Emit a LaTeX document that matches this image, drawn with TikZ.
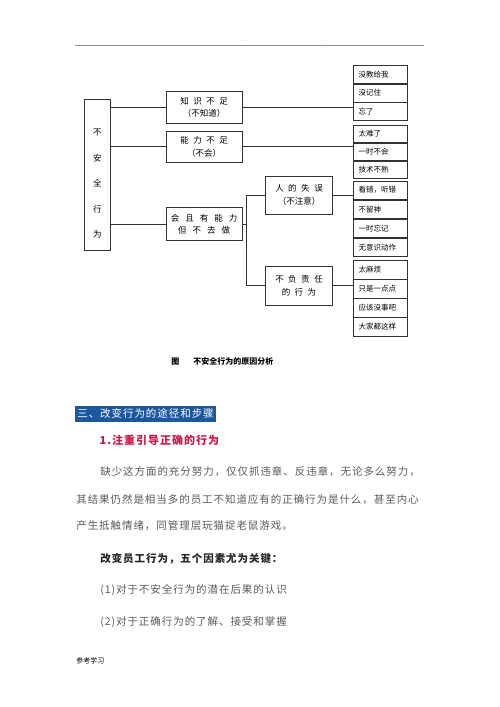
\documentclass[tikz,border=0pt]{standalone}
\usepackage{fontspec}
\setmainfont{Noto Sans CJK SC}
\newfontfamily\spaced{Noto Sans CJK SC}[LetterSpace=9]
\usetikzlibrary{positioning}
\definecolor{headblue}{RGB}{28,88,160}
\definecolor{titlered}{RGB}{205,22,72}
\definecolor{bodygray}{RGB}{90,90,90}
\definecolor{rulegray}{RGB}{150,150,150}
\newcommand{\gap}{\hspace{4.5pt}}
\newcommand{\wgap}{\hspace{6pt}}
\begin{document}
\begin{tikzpicture}
    [x=1pt,y=-1pt,
    line width=0.65pt,
    box/.style = {draw=black!80, minimum width=76pt, minimum height=32pt,
                inner sep=0pt, align=center,
                font=\fontsize{8.5}{12.5}\selectfont},
    cell/.style = {draw=black!80, minimum height=18pt, text width=44pt,
                inner xsep=5pt, inner ysep=0pt, anchor=north west, align=left,
                font=\fontsize{7.5}{8}\selectfont},
    body/.style = {anchor=west, inner sep=0pt, text=bodygray,
                font=\fontsize{10.5}{12}\spaced}]
    \useasboundingbox[fill=white] (0,0) rectangle (500,707);
    % Page header
    \draw[rulegray, line width=1.5pt] (75,45.7) -- (424,45.7);
    \node[font=\fontsize{5}{5}\selectfont, text=black!70] (hdot1) at (245,41) {.\ \ .};
    \node[font=\fontsize{5}{5}\selectfont, text=black!70] (hdot2) at (323,41) {.};
    % Root
    \node[box, minimum width=26pt, minimum height=150.7pt,
        label={[align=center, yshift=-9pt, font=\fontsize{8.5}{25.5}\selectfont]center:不\\安\\全\\行\\为}]
        (buan) at (97.3,174.7) {};
    % Second level
    \node[box] (zhishi) at (204.2,107.5) {知\gap 识\gap 不\gap 足\\（不知道）};
    \node[box, minimum height=31.3pt] (nengli) at (204.2,146.7) {能\gap 力\gap 不\gap 足\\（不会）};
    \node[box, minimum height=33pt] (buqu) at (204.2,224.2) {会\wgap 且\wgap 有\wgap 能\wgap 力\\但\wgap 不\wgap 去\wgap 做};
    % Third level
    \node[box, minimum width=66.6pt, minimum height=38pt] (shiwu) at (299,195) {人\gap 的\gap 失\gap 误\\（不注意）};
    \node[box, minimum width=66.6pt, minimum height=38.3pt] (zeren) at (299,285.8) {不\gap 负\gap 责\gap 任\\的\gap 行\gap 为};
    % Reasons, knowledge
    \node[cell] (a1) at (353.3,65) {没教给我};
    \node[cell, below=0pt of a1] (a2) {没记住};
    \node[cell, below=0pt of a2] (a3) {忘了};
    % Reasons, ability
    \node[cell, minimum height=17.2pt] (b1) at (353.3,125) {太难了};
    \node[cell, minimum height=17.2pt, below=0pt of b1] (b2) {一时不会};
    \node[cell, minimum height=17.2pt, below=0pt of b2] (b3) {技术不熟};
    % Reasons, mistakes
    \node[cell, minimum height=18.4pt] (c1) at (353.3,180.7) {看错，听错};
    \node[cell, minimum height=18.4pt, below=0pt of c1] (c2) {不留神};
    \node[cell, minimum height=18.4pt, below=0pt of c2] (c3) {一时忘记};
    \node[cell, minimum height=18.4pt, below=0pt of c3] (c4) {无意识动作};
    % Reasons, irresponsibility
    \node[cell, minimum height=18.5pt] (d1) at (353.3,260) {太麻烦};
    \node[cell, minimum height=18.5pt, below=0pt of d1] (d2) {只是一点点};
    \node[cell, minimum height=18.5pt, below=0pt of d2] (d3) {应该没事吧};
    \node[cell, minimum height=18.5pt, below=0pt of d3] (d4) {大家都这样};
    % Connectors
    \draw[black!80] (buan.east |- zhishi.west) -- (zhishi.west);
    \draw[black!80] (buan.east |- nengli.west) -- (nengli.west);
    \draw[black!80] (buan.east |- buqu.west) -- (buqu.west);
    \draw[black!80] (zhishi.east) -- (zhishi.east -| a3.west);
    \draw[black!80] (nengli.east) -- (nengli.east -| b2.west);
    \coordinate (fork) at (246,224.2);
    \draw[black!80] (buqu.east) -- (fork);
    \draw[black!80] (shiwu.west) -- (shiwu.west -| fork) -- (zeren.west -| fork) -- (zeren.west);
    \draw[black!80] (shiwu.east) -- (shiwu.east -| c1.west);
    \draw[black!80] (zeren.east) -- (zeren.east -| d2.west);
    % Caption
    \node[anchor=west, inner sep=0pt, font=\fontsize{8}{9}\bfseries] (cap) at (171,361.7)
        {图\hspace{14pt}不安全行为的原因分析};
    % Section heading
    \node[anchor=west, fill=headblue, text=white, inner xsep=2pt, inner ysep=0pt,
        minimum height=15.7pt, font=\fontsize{10.5}{12}\spaced] (sec) at (75,413.8)
        {三、改变行为的途径和步骤};
    \node[anchor=west, inner sep=0pt, text=titlered, font=\fontsize{11}{12}\spaced\bfseries]
        (sub) at (99.3,440.7) {1.注重引导正确的行为};
    % Body text
    \node[body] (p1) at (100,471.7) {缺少这方面的充分努力，仅仅抓违章、反违章，无论多么努力，};
    \node[body] (p2) at (76,500) {其结果仍然是相当多的员工不知道应有的正确行为是什么，甚至内心};
    \node[body] (p3) at (76,526) {产生抵触情绪，同管理层玩猫捉老鼠游戏。};
    \node[body, text=black!85, font=\fontsize{10.5}{12}\spaced\bfseries] (p4) at (100,558.3)
        {改变员工行为，五个因素尤为关键：};
    \node[body] (p5) at (100,590) {(1)对于不安全行为的潜在后果的认识};
    \node[body] (p6) at (100,621.7) {(2)对于正确行为的了解、接受和掌握};
    % Footer
    \node[anchor=west, inner sep=0pt, font=\fontsize{7}{8}\selectfont] (foot) at (76,660.7) {参考学习};
\end{tikzpicture}
\end{document}
